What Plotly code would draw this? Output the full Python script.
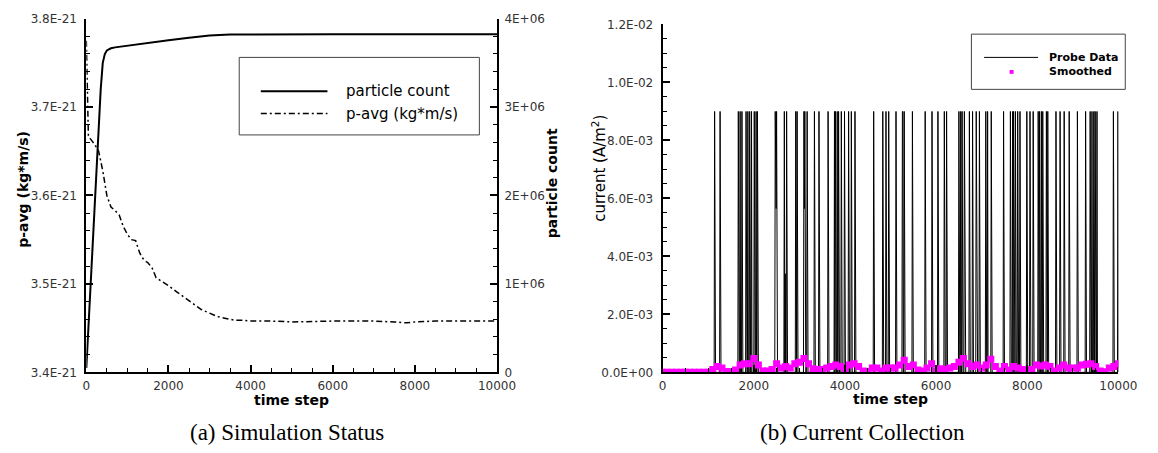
import numpy as np
import plotly.graph_objects as go

W, H = 1158, 453

# ---------------- (a) Simulation Status data ----------------
count_t = [0, 50, 100, 150, 200, 250, 300, 350, 400, 450, 500, 600, 700, 1000, 1500,
           2000, 2500, 3000, 3500, 4000, 6000, 8000, 10000]
particle_count = [0.05e6, 0.5e6, 1.0e6, 1.5e6, 1.95e6, 2.3e6, 2.75e6, 3.2e6, 3.5e6, 3.6e6,
                  3.64e6, 3.665e6, 3.675e6, 3.695e6, 3.725e6, 3.755e6, 3.785e6, 3.81e6,
                  3.82e6, 3.822e6, 3.822e6, 3.822e6, 3.822e6]

pavg_t = [0, 20, 50, 100, 200, 300, 400, 500, 600, 700, 800, 900, 1000, 1100, 1200, 1300,
          1400, 1500, 1600, 1700, 1800, 1900, 2000, 2200, 2400, 2600, 2800, 3000, 3200,
          3400, 3600, 3800, 4000, 4500, 5000, 6000, 7000, 7500, 7800, 8000, 8500, 9000, 10000]
pavg_e21 = [3.775, 3.72, 3.667, 3.664, 3.658, 3.650, 3.628, 3.600, 3.587, 3.583, 3.578,
            3.565, 3.556, 3.550, 3.549, 3.535, 3.527, 3.524, 3.518, 3.507, 3.504, 3.502,
            3.498, 3.491, 3.484, 3.477, 3.471, 3.467, 3.463, 3.461, 3.459, 3.459, 3.458,
            3.458, 3.457, 3.458, 3.458, 3.457, 3.456, 3.457, 3.458, 3.458, 3.458]

# ---------------- (b) Current Collection data ----------------
spike_t = [1140, 1260, 1660, 1700, 1740, 1830, 1870, 1910, 1950, 2010, 2050, 2080, 2470,
           2480, 2490, 2500, 2670, 2690, 2720, 2920, 2950, 3100, 3110, 3120, 3170, 3330,
           3430, 3630, 3770, 3790, 3830, 3860, 3920, 3990, 4080, 4140, 4220, 4630, 4830,
           4900, 4960, 5120, 5260, 5270, 5300, 5480, 5760, 5910, 6040, 6180, 6230, 6500,
           6540, 6570, 6620, 6630, 6730, 6800, 6880, 6890, 6950, 7090, 7130, 7210, 7480,
           7630, 7680, 7700, 7710, 7740, 7790, 7840, 7990, 8060, 8130, 8240, 8270, 8310,
           8340, 8420, 8450, 8630, 8720, 8810, 8920, 9100, 9280, 9380, 9420, 9460, 9470,
           9490, 9530, 9890, 9990]
spike_val_milli = [9.0, 9.0, 9.0, 9.0, 9.0, 9.0, 9.0, 9.0, 9.0, 9.0, 9.0, 9.0, 9.0,
                   5.65, 5.65, 9.0, 9.0, 3.4, 9.0, 9.0, 9.0, 9.0, 5.65, 9.0, 9.0, 9.0,
                   9.0, 9.0, 9.0, 9.0, 9.0, 9.0, 9.0, 9.0, 9.0, 9.0, 9.0, 9.0, 9.0,
                   9.0, 9.0, 9.0, 9.0, 9.0, 9.0, 9.0, 9.0, 9.0, 9.0, 9.0, 9.0, 9.0,
                   9.0, 9.0, 9.0, 3.4, 9.0, 9.0, 9.0, 5.65, 9.0, 9.0, 9.0, 9.0, 9.0,
                   9.0, 9.0, 9.0, 3.4, 9.0, 9.0, 9.0, 9.0, 9.0, 9.0, 9.0, 9.0, 9.0,
                   9.0, 9.0, 9.0, 9.0, 9.0, 9.0, 9.0, 9.0, 9.0, 9.0, 9.0, 9.0, 3.4,
                   9.0, 9.0, 9.0, 9.0]
probe_step = 10

smooth_t = list(range(0, 10001, 100))
smooth_milli = [0, 0, 0, 0, 0, 0, 0, 0, 0, 0, 0,
                0.10, 0.20, 0.15, 0.03, 0.02, 0.08, 0.25, 0.30, 0.30, 0.48,
                0.25, 0.05, 0.05, 0.10, 0.30, 0.15, 0.20, 0.15, 0.30, 0.35,
                0.48, 0.30, 0.12, 0.10, 0.10, 0.15, 0.20, 0.25, 0.20, 0.05,
                0.25, 0.30, 0.20, 0.05, 0.03, 0.15, 0.15, 0.05, 0.15, 0.15,
                0.15, 0.25, 0.42, 0.20, 0.25, 0.08, 0.05, 0.15, 0.30, 0.05,
                0.12, 0.10, 0.15, 0.20, 0.35, 0.48, 0.30, 0.20, 0.25, 0.15,
                0.25, 0.45, 0.20, 0.05, 0.20, 0.08, 0.20, 0.15, 0.10, 0.10,
                0.10, 0.25, 0.22, 0.25, 0.20, 0.05, 0.15, 0.25, 0.15, 0.15,
                0.15, 0.25, 0.28, 0.30, 0.20, 0.05, 0.02, 0.15, 0.20, 0.30]

# ---------------- ticks ----------------
x_ticks = [0, 2000, 4000, 6000, 8000, 10000]
x_ticktext = ["0", "2000", "4000", "6000", "8000", "10000"]
pavg_ticks = [3.4e-21, 3.5e-21, 3.6e-21, 3.7e-21, 3.8e-21]
pavg_ticktext = ["3.4E-21", "3.5E-21", "3.6E-21", "3.7E-21", "3.8E-21"]
count_ticks = [0, 1e6, 2e6, 3e6, 4e6]
count_ticktext = ["0", "1E+06", "2E+06", "3E+06", "4E+06"]
cur_ticks = [0, 0.002, 0.004, 0.006, 0.008, 0.010, 0.012]
cur_ticktext = ["0.0E+00", "2.0E-03", "4.0E-03", "6.0E-03", "8.0E-03", "1.0E-02", "1.2E-02"]

# build probe series on its sampling grid
probe_t = np.arange(0, 10001, probe_step)
probe_v = np.zeros(len(probe_t))
for t, v in zip(spike_t, spike_val_milli):
    probe_v[int(round(t / probe_step))] = v * 1e-3

fig = go.Figure()
fig.add_trace(go.Scatter(x=count_t, y=particle_count, mode="lines", name="particle count",
                         line=dict(color="black", width=2), xaxis="x", yaxis="y2",
                         showlegend=False))
fig.add_trace(go.Scatter(x=pavg_t, y=[v * 1e-21 for v in pavg_e21], mode="lines",
                         name="p-avg (kg*m/s)",
                         line=dict(color="black", width=1.5, dash="6px,3px,2px,3px"),
                         xaxis="x", yaxis="y", showlegend=False))
fig.add_trace(go.Scatter(x=probe_t, y=probe_v, mode="lines", name="Probe Data",
                         line=dict(color="black", width=1), xaxis="x3", yaxis="y3",
                         showlegend=False))
fig.add_trace(go.Scatter(x=smooth_t, y=[v * 1e-3 for v in smooth_milli], mode="markers",
                         name="Smoothed",
                         marker=dict(symbol="square", size=7, color="#FF00FF",
                                     line=dict(width=0)),
                         xaxis="x3", yaxis="y3", showlegend=False))

FONT = "DejaVu Sans, Verdana, sans-serif"
tick_font = dict(family=FONT, size=12, color="#333")


def ax(**kw):
    d = dict(showline=True, linecolor="black", linewidth=2, ticks="inside", ticklen=7,
             tickwidth=2, tickcolor="black", showgrid=False, zeroline=False,
             tickfont=tick_font, tickmode="array", fixedrange=True)
    d.update(kw)
    return d


def minor(dtick, tick0=0):
    return dict(ticks="inside", ticklen=4, tickwidth=1, tickcolor="black",
                tickmode="linear", dtick=dtick, tick0=tick0, showgrid=False)


yb, ya, yr = 1 - 377 / H, 1 - 12 / H, 1 - 18 / H

fig.update_layout(
    width=W, height=H, margin=dict(l=0, r=0, t=0, b=0),
    paper_bgcolor="white", plot_bgcolor="white",
    font=dict(family=FONT, color="black"),
    xaxis=ax(domain=[84 / W, 503 / W], anchor="y", range=[0, 10000],
             tickvals=x_ticks, ticktext=x_ticktext, minor=minor(500), ticklabelstandoff=1),
    yaxis=ax(domain=[yb, ya], anchor="x", range=[3.4e-21, 3.8e-21],
             tickvals=pavg_ticks, ticktext=pavg_ticktext,
             minor=minor(0.02e-21, 3.4e-21), ticklabelstandoff=5),
    yaxis2=ax(overlaying="y", side="right", anchor="x", range=[0, 4e6],
              tickvals=count_ticks, ticktext=count_ticktext, minor=minor(2e5),
              ticklabelstandoff=3),
    xaxis3=ax(domain=[672 / W, 1137 / W], anchor="y3", range=[0, 10000],
              tickvals=x_ticks, ticktext=x_ticktext, minor=minor(500), ticklabelstandoff=1),
    yaxis3=ax(domain=[yb, yr], anchor="x3", range=[0, 0.012],
              tickvals=cur_ticks, ticktext=cur_ticktext, minor=minor(0.0005),
              ticklabelstandoff=5),
)


def px(x):
    return x / W


def py(y):
    return 1 - y / H


shapes = []
annotations = []

# legend (a)
shapes.append(dict(type="rect", xref="paper", yref="paper", x0=px(240), x1=px(485),
                   y0=py(132), y1=py(52), line=dict(color="#444", width=1),
                   fillcolor="white", layer="above"))
shapes.append(dict(type="line", xref="paper", yref="paper", x0=px(262), x1=px(330),
                   y0=py(87), y1=py(87), line=dict(color="black", width=2)))
shapes.append(dict(type="line", xref="paper", yref="paper", x0=px(262), x1=px(330),
                   y0=py(110), y1=py(110),
                   line=dict(color="black", width=1.5, dash="6px,3px,2px,3px")))
for txt, yy in [("particle count", 87), ("p-avg (kg*m/s)", 110)]:
    annotations.append(dict(text=txt, xref="paper", yref="paper", x=px(347), y=py(yy),
                            xanchor="left", yanchor="middle", showarrow=False,
                            font=dict(family=FONT, size=15, color="black")))

# legend (b)
shapes.append(dict(type="rect", xref="paper", yref="paper", x0=px(987), x1=px(1144),
                   y0=py(85), y1=py(28), line=dict(color="#444", width=1),
                   fillcolor="white", layer="above"))
shapes.append(dict(type="line", xref="paper", yref="paper", x0=px(1000), x1=px(1055),
                   y0=py(52), y1=py(52), line=dict(color="black", width=1)))
shapes.append(dict(type="rect", xref="paper", yref="paper", x0=px(1026), x1=px(1030),
                   y0=py(69), y1=py(65), line=dict(width=0), fillcolor="#FF00FF"))
for txt, yy in [("<b>Probe Data</b>", 52), ("<b>Smoothed</b>", 67)]:
    annotations.append(dict(text=txt, xref="paper", yref="paper", x=px(1064), y=py(yy),
                            xanchor="left", yanchor="middle", showarrow=False,
                            font=dict(family=FONT, size=11, color="black")))

# axis titles
title_font = dict(family=FONT, size=14, color="black")
annotations += [
    dict(text="<b>p-avg (kg*m/s)</b>", x=px(20), y=py(188), textangle=-90),
    dict(text="<b>particle count</b>", x=px(559), y=py(182), textangle=-90),
    dict(text="<b>time step</b>", x=px(293), y=py(406)),
    dict(text="<b>time step</b>", x=px(904), y=py(405)),
    dict(text="current (A/m<sup>2</sup>)", x=px(607), y=py(166), textangle=-90,
         font=dict(family=FONT, size=15, color="black")),
]
for a in annotations[-5:]:
    a.update(xref="paper", yref="paper", xanchor="center", yanchor="middle",
             showarrow=False)
    a.setdefault("font", title_font)

cap_font = dict(family="Liberation Serif, Times New Roman, serif", size=23, color="black")
annotations += [
    dict(text="(a) Simulation Status", x=px(289), y=py(439), xref="paper", yref="paper",
         xanchor="center", yanchor="middle", showarrow=False, font=cap_font),
    dict(text="(b) Current Collection", x=px(876), y=py(439), xref="paper", yref="paper",
         xanchor="center", yanchor="middle", showarrow=False, font=cap_font),
]

fig.update_layout(shapes=shapes, annotations=annotations)
fig.write_html("out.html")
